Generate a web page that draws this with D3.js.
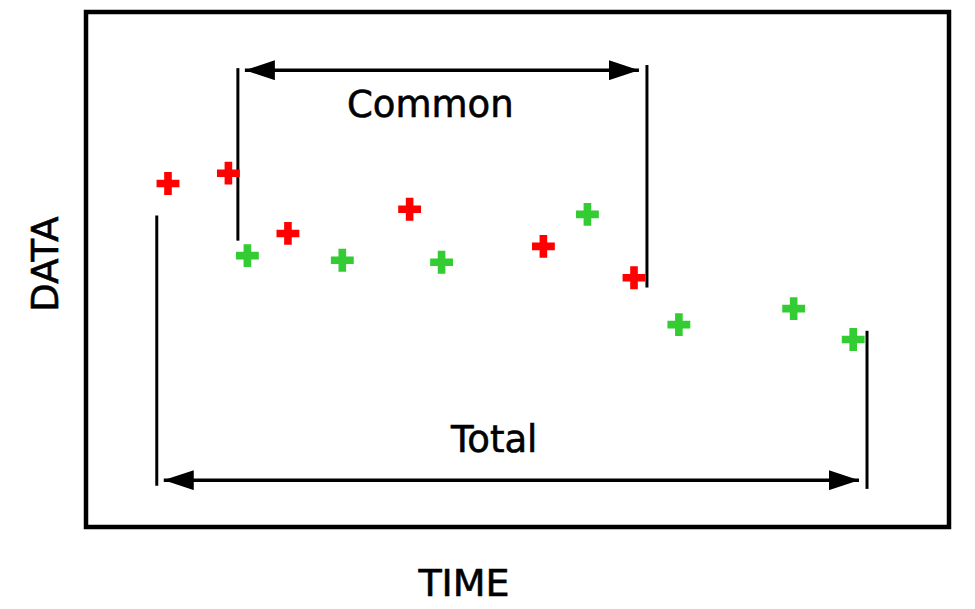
<!DOCTYPE html>
<html>
<head>
<meta charset="utf-8">
<script src="https://cdn.jsdelivr.net/npm/d3@7"></script>
<style>
  html, body { margin: 0; padding: 0; background: #fff; }
  svg { display: block; }
  text { font-family: "DejaVu Sans", sans-serif; fill: #000; }
</style>
</head>
<body>
<svg id="chart" width="975" height="609"></svg>
<script>
// ---- data ----
const redTime  = [9.5, 16.5, 23.4, 37.5, 53.0, 63.5];
const redData  = [66.7, 68.7, 57.0, 61.7, 54.5, 48.4];
const greenTime = [18.7, 29.7, 41.2, 58.1, 68.7, 82.0, 88.9];
const greenData = [52.7, 51.8, 51.4, 60.7, 39.3, 42.4, 36.4];

// annotation spans
const spanLabels = ["Common", "Total"];
const spanTime   = [[17.6, 65.0], [8.2, 90.5]];
const spanLevel  = [88.7, 9.1];
const spanLeftExt  = [[89.1, 55.6], [60.5, 8.0]];
const spanRightExt = [[89.7, 46.5], [38.1, 7.4]];
const spanLabelTime  = [39.9, 47.3];
const spanLabelLevel = [79.6, 14.6];

const xTitle = "TIME";
const yTitle = "DATA";

// ---- layout ----
const svg = d3.select("#chart");
const frame = {left: 86, top: 12, right: 949, bottom: 527};
const x = d3.scaleLinear().domain([0, 100]).range([frame.left, frame.right]);
const y = d3.scaleLinear().domain([0, 100]).range([frame.bottom, frame.top]);

// frame
svg.append("rect")
  .attr("x", frame.left).attr("y", frame.top)
  .attr("width", frame.right - frame.left).attr("height", frame.bottom - frame.top)
  .attr("fill", "none").attr("stroke", "#000").attr("stroke-width", 4.5);

// axis titles
svg.append("text")
  .attr("x", 464).attr("y", 596)
  .attr("text-anchor", "middle").attr("font-size", 38)
  .attr("stroke", "#000").attr("stroke-width", 0.6)
  .text(xTitle);
svg.append("text")
  .attr("transform", `translate(58, 264) rotate(-90)`)
  .attr("text-anchor", "middle").attr("font-size", 37)
  .attr("stroke", "#000").attr("stroke-width", 0.6)
  .text(yTitle);

// arrow head marker
const defs = svg.append("defs");
defs.append("marker")
  .attr("id", "arrow")
  .attr("viewBox", "0 0 30 20")
  .attr("refX", 30).attr("refY", 10)
  .attr("markerWidth", 30).attr("markerHeight", 20)
  .attr("markerUnits", "userSpaceOnUse")
  .attr("orient", "auto-start-reverse")
  .append("path")
  .attr("d", "M0,0 L30,10 L0,20 Z")
  .attr("fill", "#000");

// spans
spanLabels.forEach((lab, i) => {
  const [t0, t1] = spanTime[i];
  const g = svg.append("g");
  g.append("line")
    .attr("x1", x(t0)).attr("x2", x(t0))
    .attr("y1", y(spanLeftExt[i][0])).attr("y2", y(spanLeftExt[i][1]))
    .attr("stroke", "#000").attr("stroke-width", 3);
  g.append("line")
    .attr("x1", x(t1)).attr("x2", x(t1))
    .attr("y1", y(spanRightExt[i][0])).attr("y2", y(spanRightExt[i][1]))
    .attr("stroke", "#000").attr("stroke-width", 3);
  g.append("line")
    .attr("x1", x(t0) + 7).attr("x2", x(t1) - 8)
    .attr("y1", y(spanLevel[i])).attr("y2", y(spanLevel[i]))
    .attr("stroke", "#000").attr("stroke-width", 3.5)
    .attr("marker-start", "url(#arrow)")
    .attr("marker-end", "url(#arrow)");
  g.append("text")
    .attr("x", x(spanLabelTime[i])).attr("y", y(spanLabelLevel[i]))
    .attr("text-anchor", "middle").attr("font-size", 37)
    .attr("stroke", "#000").attr("stroke-width", 0.6)
    .text(lab);
});

// markers
const cross = d3.symbol().type(d3.symbolCross).size(290);
const pts = [
  {t: redTime, d: redData, c: "#ff0000"},
  {t: greenTime, d: greenData, c: "#33cc33"}
];
pts.forEach(s => {
  svg.append("g").selectAll("path")
    .data(d3.range(s.t.length))
    .join("path")
    .attr("d", cross)
    .attr("transform", i => `translate(${x(s.t[i])},${y(s.d[i])})`)
    .attr("fill", s.c);
});
</script>
</body>
</html>
